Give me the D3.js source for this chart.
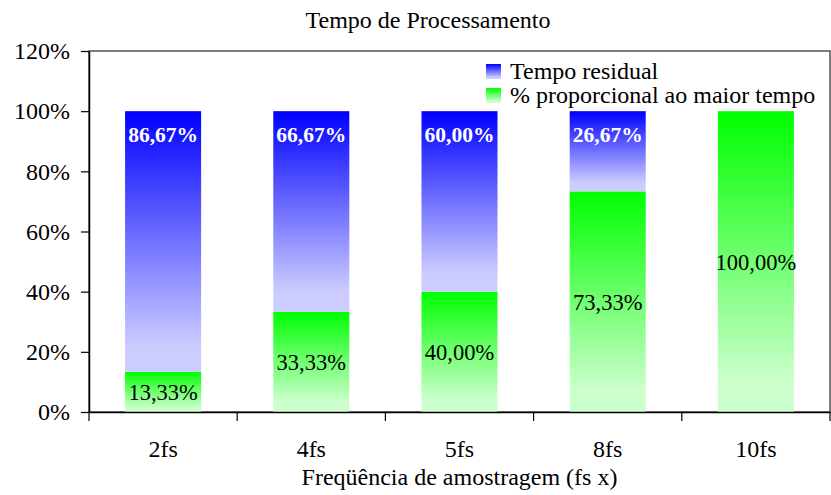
<!DOCTYPE html>
<html><head><meta charset="utf-8">
<script src="https://cdn.jsdelivr.net/npm/d3@7"></script>
<style>body{margin:0;background:#fff}svg{display:block}text{font-family:"Liberation Serif","Times New Roman",serif}</style>
</head><body>
<svg id="chart" width="831" height="495"></svg>
<script>
const categories = ["2fs","4fs","5fs","8fs","10fs"];
const greenValues = [13.33, 33.33, 40.00, 73.33, 100.00];
const blueValues = [86.67, 66.67, 60.00, 26.67, 0];
const yTicks = [0,20,40,60,80,100,120];
const seriesNames = ["Tempo residual","% proporcional ao maior tempo"];
const chartTitle = "Tempo de Processamento";
const xTitle = "Freqüência de amostragem (fs x)";

const svg = d3.select("#chart");
const L=89, R=830, T=51, B=412;
const x = d3.scaleBand().domain(categories).range([L,R]).paddingInner(0.487).paddingOuter(0.2435);
const y = d3.scaleLinear().domain([0,120]).range([B,T]);
const fmt = v => v.toFixed(2).replace(".",",")+"%";

const defs = svg.append("defs");
function grad(id, c1, c2){
  const g = defs.append("linearGradient").attr("id",id).attr("x1",0).attr("y1",0).attr("x2",0).attr("y2",1);
  g.append("stop").attr("offset","0%").attr("stop-color",c1);
  g.append("stop").attr("offset","90%").attr("stop-color",c2);
  g.append("stop").attr("offset","100%").attr("stop-color",c2);
}
grad("gBlue","#0000ff","#ccccff");
grad("gGreen","#00ff00","#ccffcc");

// frame
svg.append("rect").attr("x",L).attr("y",T).attr("width",R-L).attr("height",B-T)
  .attr("fill","none").attr("stroke","#505050").attr("stroke-width",1.5);

// bars
const data = categories.map((c,i)=>({c, g:greenValues[i], b:blueValues[i]}));
svg.selectAll("rect.green").data(data).join("rect").attr("class","green")
  .attr("x",d=>x(d.c)).attr("width",x.bandwidth())
  .attr("y",d=>y(d.g)).attr("height",d=>y(0)-y(d.g)).attr("fill","url(#gGreen)");
svg.selectAll("rect.blue").data(data.filter(d=>d.b>0)).join("rect").attr("class","blue")
  .attr("x",d=>x(d.c)).attr("width",x.bandwidth())
  .attr("y",d=>y(d.g+d.b)).attr("height",d=>y(d.g)-y(d.g+d.b)).attr("fill","url(#gBlue)");

// labels
svg.selectAll("text.gl").data(data).join("text").attr("class","gl")
  .attr("x",d=>x(d.c)+x.bandwidth()/2).attr("y",d=>(y(0)+y(d.g))/2+8)
  .attr("text-anchor","middle").attr("font-size",22.5).attr("fill","#000").text(d=>fmt(d.g));
svg.selectAll("text.bl").data(data.filter(d=>d.b>0)).join("text").attr("class","bl")
  .attr("x",d=>x(d.c)+x.bandwidth()/2).attr("y",d=>y(d.g+d.b)+31)
  .attr("text-anchor","middle").attr("font-size",21.5).attr("font-weight","bold").attr("fill","#fff").text(d=>fmt(d.b));

// y axis
const yAxis = svg.append("g").attr("transform",`translate(${L},0)`)
  .call(d3.axisLeft(y).tickValues(yTicks).tickFormat(d=>d+"%").tickSize(8).tickPadding(11).tickSizeOuter(0));
yAxis.select(".domain").attr("stroke","#000").attr("stroke-width",1.5);
yAxis.selectAll(".tick line").attr("stroke","#000").attr("stroke-width",1.2);
yAxis.selectAll("text").attr("font-size",24).attr("fill","#000").attr("font-family","Liberation Serif");

// x axis
const xAxis = svg.append("g").attr("transform",`translate(0,${B})`)
  .call(d3.axisBottom(x).tickSize(0).tickPadding(28).tickSizeOuter(0));
xAxis.select(".domain").attr("stroke","#000").attr("stroke-width",1.5);
xAxis.selectAll("text").attr("font-size",24).attr("fill","#000").attr("font-family","Liberation Serif");
const bounds = categories.map(c=>x(c)-x.step()*x.paddingInner()/2).concat([R]);
svg.selectAll("line.xt").data(bounds).join("line").attr("class","xt")
  .attr("x1",d=>d).attr("x2",d=>d).attr("y1",B).attr("y2",B+9).attr("stroke","#000").attr("stroke-width",1.2);

// titles
svg.append("text").attr("x",428).attr("y",28).attr("text-anchor","middle").attr("font-size",24).text(chartTitle);
svg.append("text").attr("x",(L+R)/2).attr("y",485).attr("text-anchor","middle").attr("font-size",24).text(xTitle);

// legend
const leg = svg.append("g");
const legFills = ["url(#gBlue)","url(#gGreen)"];
seriesNames.forEach((n,i)=>{
  leg.append("rect").attr("x",486).attr("y",64+i*24).attr("width",15).attr("height",15).attr("fill",legFills[i]);
  leg.append("text").attr("x",510).attr("y",79+i*24).attr("font-size",24).text(n);
});
</script>
</body></html>
